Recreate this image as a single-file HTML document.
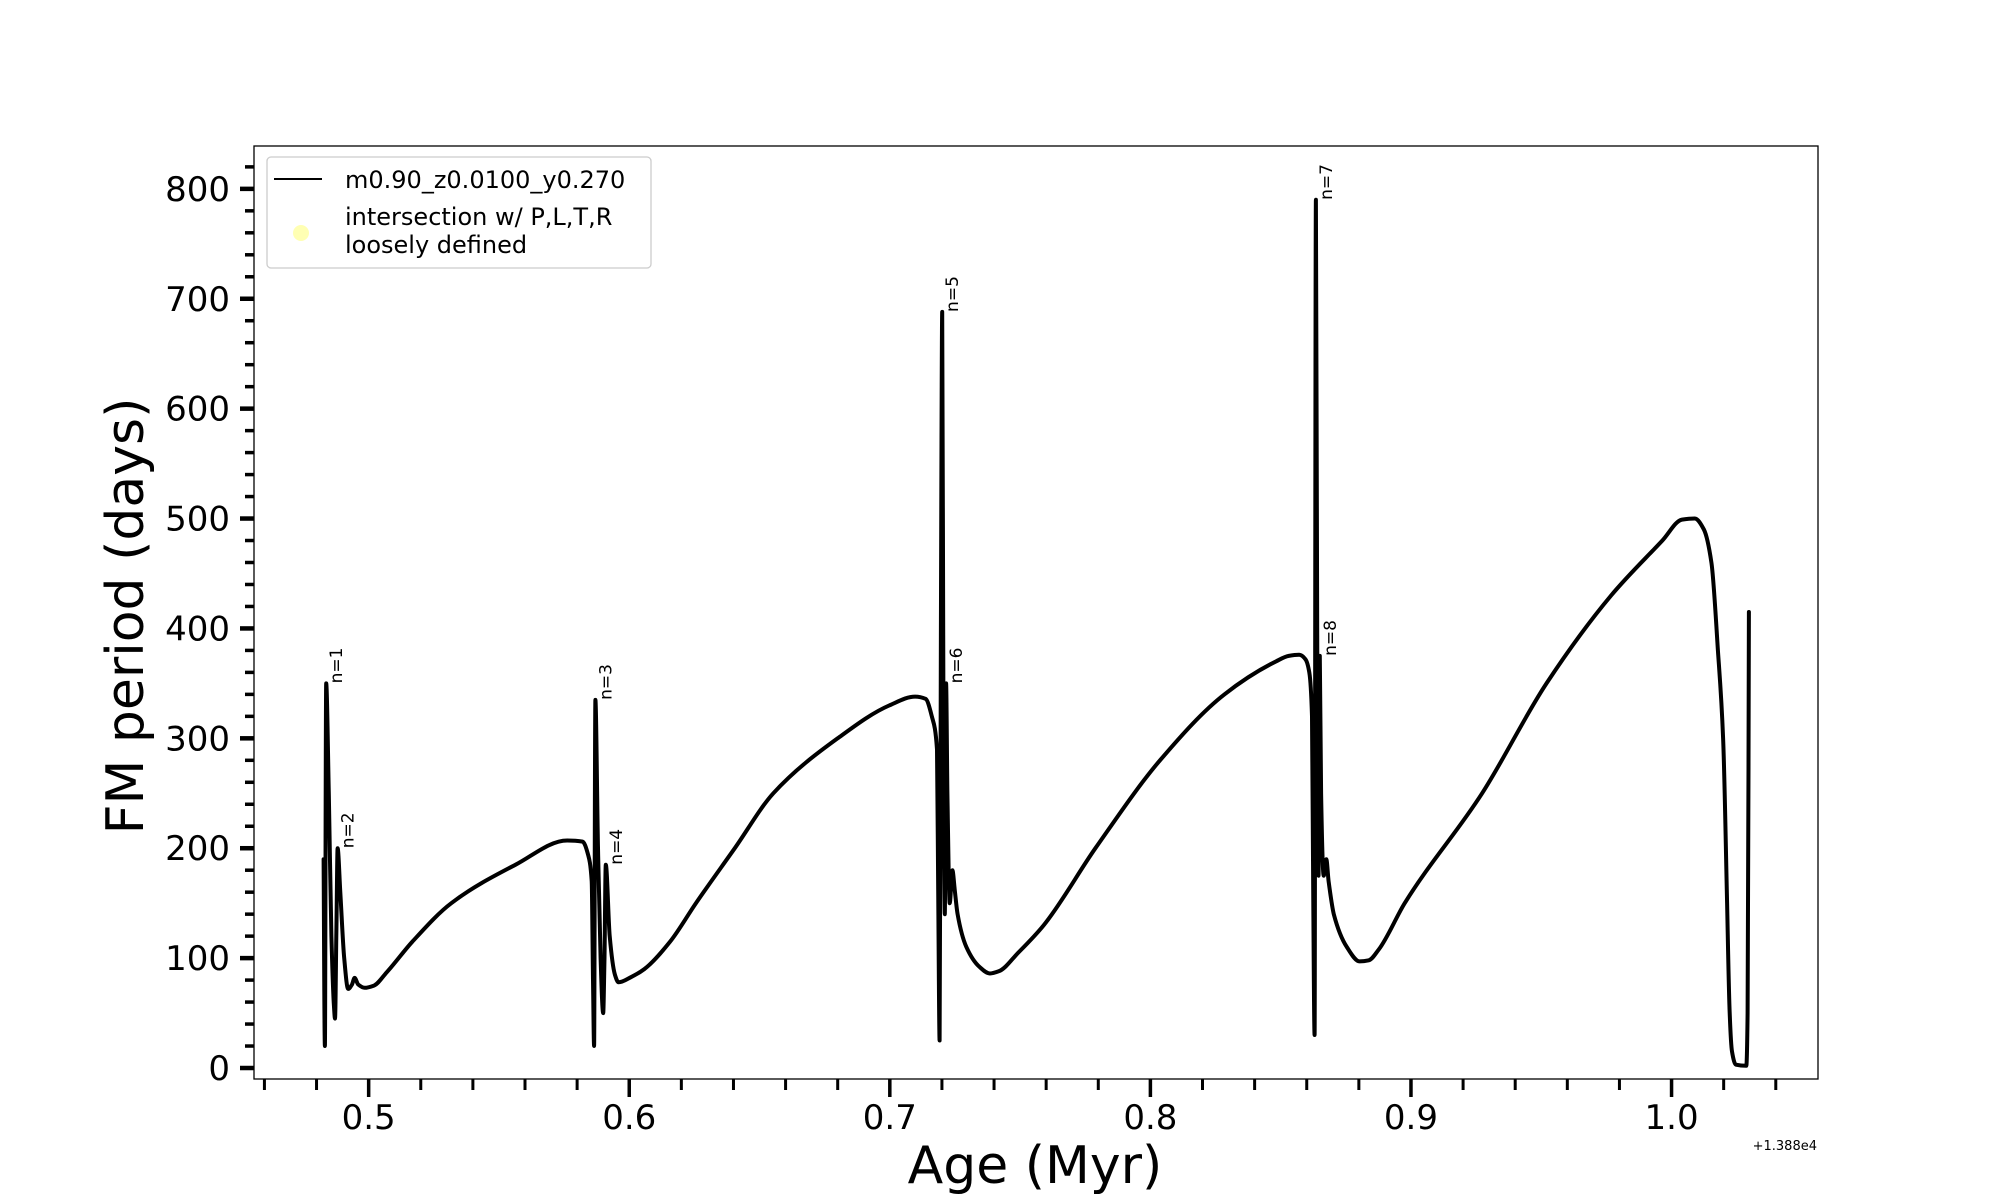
<!DOCTYPE html>
<html><head><meta charset="utf-8"><style>
html,body{margin:0;padding:0;background:#fff;}
svg{display:block;font-family:"DejaVu Sans","Liberation Sans",sans-serif;}
</style></head>
<body>
<svg id="chart" width="2000" height="1200" viewBox="0 0 2000 1200" xmlns="http://www.w3.org/2000/svg">
<rect width="2000" height="1200" fill="#fff"/>
<g id="plot"></g>
</svg>
<script>
const ages = [0.4827,0.4832,0.4837,0.4847,0.4857,0.4866,0.4871,0.4876,0.4881,0.4891,0.4906,0.4921,0.4936,0.4946,0.4960,0.4985,0.5020,0.5069,0.5168,0.5317,0.5564,0.5762,0.5821,0.5841,0.5856,0.5861,0.5865,0.5870,0.5880,0.5890,0.5900,0.5905,0.5910,0.5925,0.5945,0.5959,0.6009,0.6058,0.6157,0.6256,0.6405,0.6553,0.6800,0.6998,0.7097,0.7137,0.7161,0.7181,0.7186,0.7191,0.7196,0.7201,0.7206,0.7211,0.7216,0.7221,0.7230,0.7240,0.7250,0.7260,0.7294,0.7344,0.7384,0.7418,0.7493,0.7591,0.7789,0.8037,0.8284,0.8482,0.8531,0.8571,0.8595,0.8610,0.8620,0.8625,0.8630,0.8635,0.8640,0.8645,0.8650,0.8655,0.8665,0.8675,0.8684,0.8704,0.8754,0.8803,0.8838,0.8877,0.8976,0.9273,0.9520,0.9768,0.9965,1.0040,1.0089,1.0124,1.0153,1.0178,1.0198,1.0213,1.0223,1.0232,1.0247,1.0287,1.0292,1.0297];
const periods = [190,20,350,250,120,60,45,120,200,160,100,72,76,82,76,73,75,87,115,150,185,207,206,195,170,80,20,335,200,100,50,100,185,120,85,78,83,90,115,150,200,250,300,330,338,336,320,290,150,25,400,688,300,140,350,250,150,180,160,140,110,92,86,88,105,130,200,280,340,370,375,376,372,360,320,150,30,790,400,175,375,250,175,190,170,140,110,97,98,108,150,250,350,430,480,499,500,490,460,380,300,150,50,15,3,2,50,415];
const labelTexts = ["n=1","n=2","n=3","n=4","n=5","n=6","n=7","n=8"];
const labelAges = [0.4837,0.4881,0.5870,0.5910,0.7201,0.7216,0.8635,0.8650];
const labelPeriods = [350,200,335,185,688,350,790,375];
const xTickLabels = ["0.5","0.6","0.7","0.8","0.9","1.0"];
const xTickValues = [0.5,0.6,0.7,0.8,0.9,1.0];
const yTickValues = [0,100,200,300,400,500,600,700,800];

const L=254,R=1818,T=146,B=1079;
const xmin=0.456,xmax=1.0562,ymin=-10,ymax=839;
function sx(v){return L+(v-xmin)/(xmax-xmin)*(R-L);}
function sy(v){return B-(v-ymin)/(ymax-ymin)*(B-T);}
const NS="http://www.w3.org/2000/svg";
const g=document.getElementById('plot');
function mk(tag,attrs,parent){const e=document.createElementNS(NS,tag);for(const k in attrs)e.setAttribute(k,attrs[k]);(parent||g).appendChild(e);return e;}

const frame=mk('rect',{x:L,y:T,width:R-L,height:B-T,fill:'none',stroke:'#000','stroke-width':1.3});



for(let i=0;i<=30;i++){
  const v=0.46+i*0.02; if(v>xmax) break;
  const major=xTickValues.some(t=>Math.abs(t-v)<1e-6);
  const x=sx(v);
  const t=mk('line',{x1:x,x2:x,y1:B,y2:B+(major?18:11),stroke:'#000','stroke-width':major?3.5:3});
  
  
}
xTickValues.forEach((v,i)=>{
  const t=mk('text',{x:sx(v),y:1129,'font-size':34,'text-anchor':'middle',fill:'#000'});
  t.textContent=xTickLabels[i];
  
  
});
for(let v=0;v<=820;v+=20){
  const major=v%100===0;
  const y=sy(v);
  const t=mk('line',{x1:L,x2:L-(major?14:9),y1:y,y2:y,stroke:'#000','stroke-width':major?4.5:3.5});
  
  
}
yTickValues.forEach(v=>{
  const t=mk('text',{x:L-24,y:sy(v)+12,'font-size':34,'text-anchor':'end',fill:'#000'});
  t.textContent=String(v);
  
  
});

// monotone cubic path through points
function monoPath(xs,ys){
  const n=xs.length,d=[],m=new Array(n);
  for(let i=0;i<n-1;i++)d.push((ys[i+1]-ys[i])/(xs[i+1]-xs[i]));
  m[0]=d[0];m[n-1]=d[n-2];
  for(let i=1;i<n-1;i++){m[i]=(d[i-1]*d[i]<=0)?0:3*(xs[i+1]-xs[i-1])/((2*xs[i+1]-xs[i]-xs[i-1])/d[i-1]+(xs[i+1]+xs[i]-2*xs[i-1])/d[i]);}
  let p='M'+xs[0].toFixed(1)+','+ys[0].toFixed(1);
  for(let i=0;i<n-1;i++){
    const h=(xs[i+1]-xs[i])/3;
    p+=' C'+(xs[i]+h).toFixed(1)+','+(ys[i]+m[i]*h).toFixed(1)+' '+(xs[i+1]-h).toFixed(1)+','+(ys[i+1]-m[i+1]*h).toFixed(1)+' '+xs[i+1].toFixed(1)+','+ys[i+1].toFixed(1);
  }
  return p;
}
const px=ages.map(sx),py=periods.map(sy);
const line=mk('path',{d:monoPath(px,py),fill:'none',stroke:'#000','stroke-width':4,'stroke-linejoin':'round','stroke-linecap':'round'});



labelTexts.forEach((s,i)=>{
  const x=sx(labelAges[i])+16,y=sy(labelPeriods[i]);
  const t=mk('text',{x:x,y:y,'font-size':17,fill:'#000',transform:`rotate(-90 ${x} ${y})`});
  t.textContent=s;
  
  
});

const xt=mk('text',{x:1035,y:1183,'font-size':52,'text-anchor':'middle',fill:'#000'});
xt.textContent='Age (Myr)';


const yt=mk('text',{x:143,y:616,'font-size':52,'text-anchor':'middle',fill:'#000',transform:'rotate(-90 143 616)'});
yt.textContent='FM period (days)';


const off=mk('text',{x:1817,y:1150,'font-size':13,'text-anchor':'end',fill:'#000'});
off.textContent='+1.388e4';



const lg=mk('g',{});


const lb=mk('rect',{x:267,y:157,width:384,height:111,rx:4,fill:'#fff',stroke:'#ccc','stroke-width':1.3},lg);


const ll=mk('line',{x1:274,x2:322,y1:179,y2:179,stroke:'#000','stroke-width':2},lg);


const lt=mk('text',{x:345,y:188,'font-size':24,fill:'#000'},lg);
lt.textContent='m0.90_z0.0100_y0.270';


const lc=mk('circle',{cx:301,cy:233,r:8,fill:'#ffffb3'},lg);


const lt2=mk('text',{x:345,y:225,'font-size':24,fill:'#000'},lg);
lt2.textContent='intersection w/ P,L,T,R';


const lt3=mk('text',{x:345,y:253,'font-size':24,fill:'#000'},lg);
lt3.textContent='loosely defined';


</script>
</body></html>
